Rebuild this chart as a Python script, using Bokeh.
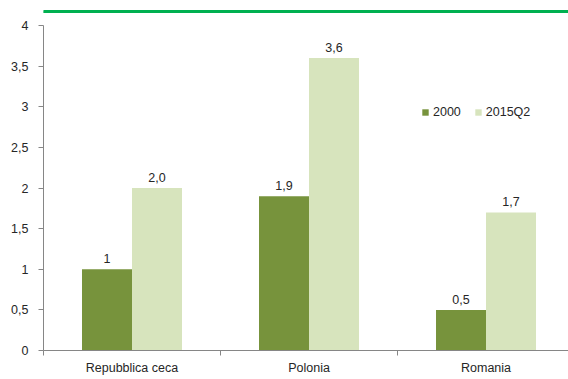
from bokeh.plotting import figure
from bokeh.models import ColumnDataSource, Range1d, FixedTicker, Legend, LegendItem
from bokeh.layouts import column
from bokeh.transform import dodge
from bokeh.core.properties import value
from bokeh.embed import file_html
from bokeh.resources import INLINE

categories = ["Repubblica ceca", "Polonia", "Romania"]
series_2000 = [1.0, 1.9, 0.5]
series_2015q2 = [2.0, 3.6, 1.7]
labels_2000 = ["1", "1,9", "0,5"]
labels_2015q2 = ["2,0", "3,6", "1,7"]
y_ticks = [0, 0.5, 1, 1.5, 2, 2.5, 3, 3.5, 4]
y_tick_labels = ["0", "0,5", "1", "1,5", "2", "2,5", "3", "3,5", "4"]

FONT = "Liberation Sans"
FS = "12.5px"
TXT = "#262626"
AX = "#868686"
C1 = "#77933c"
C2 = "#d7e4bd"

pos = [i + 0.5 for i in range(len(categories))]
src = ColumnDataSource(dict(x=pos, a=series_2000, b=series_2015q2,
                            la=labels_2000, lb=labels_2015q2))

# top strip with green rule
top = figure(width=568, height=13, output_backend="svg", toolbar_location=None,
             x_range=Range1d(0, 568), y_range=Range1d(0, 13),
             min_border=0, min_border_left=0, min_border_right=0,
             min_border_top=0, min_border_bottom=0)
top.axis.visible = False
top.grid.visible = False
top.outline_line_color = None
top.quad(left=[0], right=[568], bottom=[0], top=[3], color="#00b050")

bw = 0.2825
p = figure(width=568, height=366, output_backend="svg", toolbar_location=None,
           x_range=Range1d(0, 2.966), y_range=Range1d(0, 4),
           min_border_left=43, min_border_right=0, min_border_top=12,
           min_border_bottom=29)
p.outline_line_color = None
p.grid.visible = False

r1 = p.vbar(x=dodge("x", -bw / 2, range=p.x_range), top="a", width=bw,
            source=src, fill_color=C1, line_color=None)
r2 = p.vbar(x=dodge("x", bw / 2, range=p.x_range), top="b", width=bw,
            source=src, fill_color=C2, line_color=None)

p.text(x=dodge("x", -bw / 2, range=p.x_range), y="a", text="la", source=src,
       text_align="center", text_baseline="bottom", y_offset=-6,
       text_font=value(FONT), text_font_size=FS, text_color=TXT)
p.text(x=dodge("x", bw / 2, range=p.x_range), y="b", text="lb", source=src,
       text_align="center", text_baseline="bottom", y_offset=-6,
       text_font=value(FONT), text_font_size=FS, text_color=TXT)

xa = p.xaxis[0]
xa.ticker = FixedTicker(ticks=pos, minor_ticks=[0, 1, 2, 3])
xa.major_label_overrides = {pos[i]: categories[i] for i in range(len(categories))}
xa.major_tick_line_color = None
xa.major_tick_out = 0
xa.major_tick_in = 0
xa.minor_tick_out = 5
xa.minor_tick_in = 0
xa.minor_tick_line_color = AX
xa.axis_line_color = AX
xa.major_label_standoff = 5
xa.major_label_text_font = FONT
xa.major_label_text_font_size = FS
xa.major_label_text_color = TXT

ya = p.yaxis[0]
ya.ticker = FixedTicker(ticks=y_ticks)
ya.major_label_overrides = {t: l for t, l in zip(y_ticks, y_tick_labels)}
ya.major_tick_out = 5
ya.major_tick_in = 0
ya.minor_tick_line_color = None
ya.major_tick_line_color = AX
ya.axis_line_color = AX
ya.major_label_standoff = 10
ya.major_label_text_font = FONT
ya.major_label_text_font_size = FS
ya.major_label_text_color = TXT

legend = Legend(items=[LegendItem(label="2000", renderers=[r1]),
                       LegendItem(label="2015Q2", renderers=[r2])],
                location=(378, 231), orientation="horizontal",
                glyph_width=8, glyph_height=8, label_standoff=4, spacing=13,
                padding=0, margin=0, border_line_color=None,
                background_fill_alpha=0, label_text_font=FONT,
                label_text_font_size=FS, label_text_color=TXT,
                label_height=14)
p.add_layout(legend)

layout = column(top, p, spacing=0)
open("out.html", "w").write(file_html(layout, INLINE))
